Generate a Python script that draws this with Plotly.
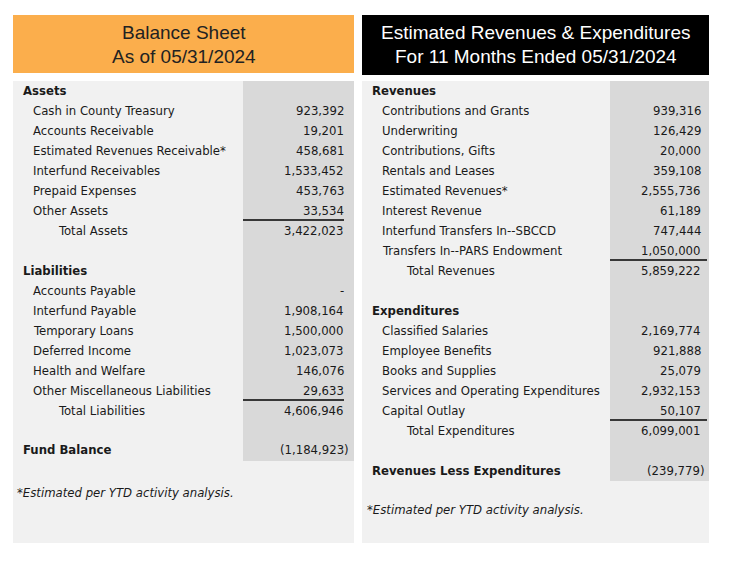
import plotly.graph_objects as go

# ---------------- data ----------------
bs_title = ["Balance Sheet", "As of 05/31/2024"]
asset_labels = ["Cash in County Treasury", "Accounts Receivable", "Estimated Revenues Receivable*",
                "Interfund Receivables", "Prepaid Expenses", "Other Assets"]
asset_values = ["923,392", "19,201", "458,681", "1,533,452", "453,763", "33,534"]
total_assets = "3,422,023"
liab_labels = ["Accounts Payable", "Interfund Payable", "Temporary Loans", "Deferred Income",
               "Health and Welfare", "Other Miscellaneous Liabilities"]
liab_values = ["-", "1,908,164", "1,500,000", "1,023,073", "146,076", "29,633"]
total_liab = "4,606,946"
fund_balance = "(1,184,923)"

re_title = ["Estimated Revenues & Expenditures", "For 11 Months Ended 05/31/2024"]
rev_labels = ["Contributions and Grants", "Underwriting", "Contributions, Gifts", "Rentals and Leases",
              "Estimated Revenues*", "Interest Revenue", "Interfund Transfers In--SBCCD",
              "Transfers In--PARS Endowment"]
rev_values = ["939,316", "126,429", "20,000", "359,108", "2,555,736", "61,189", "747,444", "1,050,000"]
total_rev = "5,859,222"
exp_labels = ["Classified Salaries", "Employee Benefits", "Books and Supplies",
              "Services and Operating Expenditures", "Capital Outlay"]
exp_values = ["2,169,774", "921,888", "25,079", "2,932,153", "50,107"]
total_exp = "6,099,001"
net_value = "(239,779)"
footnote = "*Estimated per YTD activity analysis."

# ---------------- layout helpers ----------------
W, H = 746, 565
OFF = 8  # page body margin: figure origin sits 8px in from the window corner
FONT = "DejaVu Sans Condensed, Liberation Sans Narrow, Arial Narrow, Liberation Sans"
TXT = "#1a1a1a"
ROW = 20
FS = 13

shapes = []
annotations = []


def rect(x0, y0, x1, y1, color):
    shapes.append(dict(type="rect", xref="x", yref="y", x0=x0, y0=y0, x1=x1, y1=y1,
                       fillcolor=color, line=dict(width=0), layer="below"))


def hline(x0, x1, y):
    shapes.append(dict(type="line", xref="x", yref="y", x0=x0, x1=x1, y0=y, y1=y,
                       line=dict(color="black", width=1.5)))


def text(x, y, s, anchor="left", bold=False, italic=False, size=FS, color=TXT, family=FONT):
    if bold:
        s = "<b>" + s + "</b>"
    if italic:
        s = "<i>" + s + "</i>"
    annotations.append(dict(x=x, y=y, xref="x", yref="y", text=s, showarrow=False,
                            xanchor=anchor, yanchor="middle",
                            font=dict(family=family, size=size, color=color)))


# ---------------- left panel: balance sheet ----------------
rect(13, 15, 354, 73, "#fbae4c")
rect(13, 81, 354, 543, "#f1f1f1")
rect(243, 81, 354, 461, "#d9d9d9")
for i, t in enumerate(bs_title):
    text(183.5, 32 + i * 24, t, anchor="center", size=19, color="#222222", family="Liberation Sans, Arial")

y = 90
text(21, y, "Assets", bold=True)
for lab, val in zip(asset_labels, asset_values):
    y += ROW
    text(31, y, lab)
    text(346, y, val, anchor="right")
y += ROW
hline(243, 344, y - 10)
text(56, y, "Total Assets")
text(346, y, total_assets, anchor="right")

y += 2 * ROW
text(21, y, "Liabilities", bold=True)
for lab, val in zip(liab_labels, liab_values):
    y += ROW
    text(31, y, lab)
    text(346, y, val, anchor="right")
y += ROW
hline(243, 344, y - 10)
text(56, y, "Total Liabilities")
text(346, y, total_liab, anchor="right")

y += 39
text(21, y, "Fund Balance", bold=True)
text(351, y, fund_balance, anchor="right")

text(15, y + 43, footnote, italic=True)

# ---------------- right panel: revenues & expenditures ----------------
rect(362, 15, 709, 75, "#000000")
rect(362, 81, 709, 543, "#f1f1f1")
rect(610, 81, 709, 481, "#d9d9d9")
for i, t in enumerate(re_title):
    text(535.5, 32 + i * 24, t, anchor="center", size=19, color="#ffffff", family="Liberation Sans, Arial")

y = 90
text(370, y, "Revenues", bold=True)
for lab, val in zip(rev_labels, rev_values):
    y += ROW
    text(380, y, lab)
    text(703, y, val, anchor="right")
y += ROW
hline(610, 707, y - 10)
text(404, y, "Total Revenues")
text(703, y, total_rev, anchor="right")

y += 2 * ROW
text(370, y, "Expenditures", bold=True)
for lab, val in zip(exp_labels, exp_values):
    y += ROW
    text(380, y, lab)
    text(703, y, val, anchor="right")
y += ROW
hline(610, 707, y - 10)
text(404, y, "Total Expenditures")
text(703, y, total_exp, anchor="right")

y += 40
text(370, y, "Revenues Less Expenditures", bold=True)
text(706, y, net_value, anchor="right")

text(365, y + 39, footnote, italic=True)

fig = go.Figure()
fig.update_layout(
    width=W, height=H,
    margin=dict(l=0, r=0, t=0, b=0),
    paper_bgcolor="white", plot_bgcolor="white",
    xaxis=dict(range=[OFF, W + OFF], visible=False, fixedrange=True),
    yaxis=dict(range=[H + OFF, OFF], visible=False, fixedrange=True),
    shapes=shapes, annotations=annotations, showlegend=False,
)
fig.write_html("out.html")
